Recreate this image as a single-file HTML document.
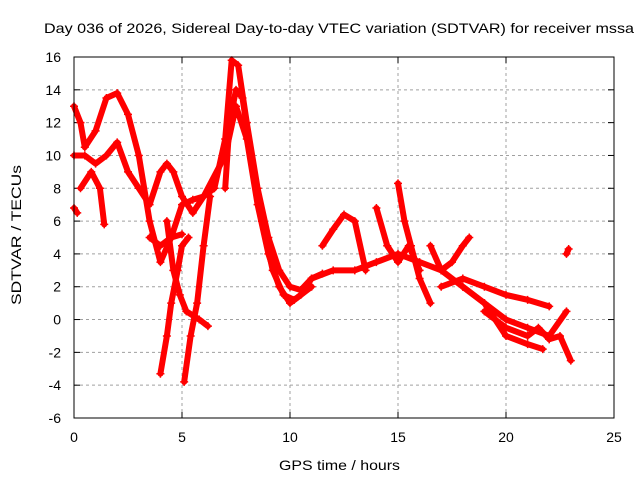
<!DOCTYPE html>
<html><head><meta charset="utf-8"><style>
html,body{margin:0;padding:0;background:#fff;}
svg{display:block;font-family:"Liberation Sans",sans-serif;font-size:12px;}
</style></head><body>
<svg id="chart" width="640" height="480" viewBox="0 0 640 480">
<rect width="640" height="480" fill="#fff"/>
<text x="44" y="33" font-size="14" textLength="590" lengthAdjust="spacingAndGlyphs">Day 036 of 2026, Sidereal Day-to-day VTEC variation (SDTVAR) for receiver mssa</text>
<text transform="translate(21,305) rotate(-90)" font-size="14" textLength="140" lengthAdjust="spacingAndGlyphs">SDTVAR / TECUs</text>
<text x="279" y="470" font-size="14" textLength="121" lengthAdjust="spacingAndGlyphs">GPS time / hours</text>
<g id="grid"></g>
<g id="ticks"></g>
<g id="series"></g>
<rect x="74" y="57" width="540" height="361" fill="none" stroke="#000" stroke-width="1"/>
</svg>
<script>
const xTicks=[0,5,10,15,20,25];
const yTicks=[-6,-4,-2,0,2,4,6,8,10,12,14,16];
const trackA=[[0,13],[0.3,12],[0.5,10.5],[1,11.5],[1.5,13.5],[2,13.8],[2.5,12.5],[3,10],[3.5,6],[4,3.5],[4.5,5],[5,7],[5.5,7.3],[6,7.5],[6.5,8],[7,11],[7.3,15.8],[7.6,15.5],[8,12],[8.5,8],[9,5],[9.5,3],[10,2],[10.5,1.8],[11,2.5],[12,3],[13,3],[14,3.5],[15,4],[16,3.5],[17,3],[18,2],[19,1],[20,0],[21,-0.5],[22,-1],[22.8,0.5]];
const trackB=[[0,10],[0.5,10],[1,9.5],[1.5,10],[2,10.8],[2.5,9],[3,8],[3.5,7],[4,9],[4.3,9.5],[4.6,9],[5,7.5],[5.5,6.5],[6,7.5],[7,10],[7.5,13],[8,11],[8.5,7],[9,4],[9.5,2],[10,1],[10.5,1.5],[11,2.5],[11.5,2.8]];
const trackC=[[4,-3.3],[4.3,-1],[4.5,1],[4.8,3],[5,4.5],[5.3,5]];
const trackD=[[5.1,-3.8],[5.4,-1],[5.7,1],[6,4.5],[6.3,7.5]];
const trackE=[[4.3,6],[4.6,3],[4.9,1.5],[5.2,0.5],[5.8,0],[6.2,-0.4]];
const trackF=[[3.5,5],[4,4.5],[4.5,5],[5,5.2]];
const trackG=[[0.3,8],[0.8,9],[1.2,8],[1.4,5.8]];
const trackH=[[0,6.8],[0.15,6.5]];
const trackI=[[11.5,4.5],[12,5.5],[12.5,6.4],[13,6],[13.5,3]];
const trackJ=[[14,6.8],[14.5,4.5],[15,3.5],[15.5,4.5],[16,3]];
const trackK=[[15,8.3],[15.3,6],[15.6,4.5],[16,2.5],[16.5,1]];
const trackL=[[16.5,4.5],[17,3],[17.5,3.5],[18,4.5],[18.3,5]];
const trackM=[[17,2],[18,2.5],[19,2],[20,1.5],[21,1.2],[22,0.8]];
const trackN=[[18,2],[19,1],[20,-1],[21,-1.5],[21.7,-1.8]];
const trackO=[[22,-1.2],[22.5,-1],[23,-2.5]];
const trackP=[[22.8,4],[22.9,4.3]];
const trackQ=[[7,8],[7.2,12],[7.5,14],[7.8,13.5],[8.2,10],[8.7,6],[9.2,3],[9.7,1.5],[10.2,1.2],[11,2]];
const trackR=[[19,0.5],[20,-0.5],[21,-1],[21.5,-0.5],[22,-1.2]];
const tracks=[trackA,trackB,trackC,trackD,trackE,trackF,trackG,trackH,trackI,trackJ,trackK,trackL,trackM,trackN,trackO,trackP,trackQ,trackR];

const X0=74,X1=614,Y0=418,Y1=57;
const xs=v=>X0+(v-0)/(25-0)*(X1-X0);
const ys=v=>Y0-(v+6)/(16+6)*(Y0-Y1);
const NS='http://www.w3.org/2000/svg';
const grid=document.getElementById('grid'),ticks=document.getElementById('ticks'),ser=document.getElementById('series');
function mk(t,a,p){const e=document.createElementNS(NS,t);for(const k in a)e.setAttribute(k,a[k]);p.appendChild(e);return e;}
xTicks.forEach(v=>{const x=xs(v);
 if(v>0&&v<25){const g=mk('line',{x1:x,x2:x,y1:Y0,y2:Y1,stroke:'#a0a0a0','stroke-dasharray':'3,3'},grid);
 }
 mk('line',{x1:x,x2:x,y1:Y0,y2:Y0-6,stroke:'#000'},ticks);mk('line',{x1:x,x2:x,y1:Y1,y2:Y1+6,stroke:'#000'},ticks);
 const t=mk('text',{x:x,y:Y0+24,'text-anchor':'middle','font-size':14},ticks);t.textContent=v;
 });
yTicks.forEach(v=>{const y=ys(v);
 if(v>-6&&v<16){const g=mk('line',{x1:X0,x2:X1,y1:y,y2:y,stroke:'#a0a0a0','stroke-dasharray':'3,3'},grid);
 }
 mk('line',{x1:X0,x2:X0+6,y1:y,y2:y,stroke:'#000'},ticks);mk('line',{x1:X1,x2:X1-6,y1:y,y2:y,stroke:'#000'},ticks);
 const t=mk('text',{x:X0-13,y:y+5,'text-anchor':'end','font-size':14},ticks);t.textContent=v;
 });
tracks.forEach((tr)=>{
 const pl=mk('polyline',{points:tr.map(p=>xs(p[0])+','+ys(p[1])).join(' '),fill:'none',stroke:'#ff0000','stroke-width':6,'stroke-linejoin':'round','stroke-linecap':'round'},ser);
 
 
 tr.forEach(p=>{const x=xs(p[0]),y=ys(p[1]);
  const m=mk('path',{d:`M${x-4},${y}H${x+4}M${x},${y-4}V${y+4}`,stroke:'#ff0000','stroke-width':1.5},ser);
  
  });
});
</script>
</body></html>
